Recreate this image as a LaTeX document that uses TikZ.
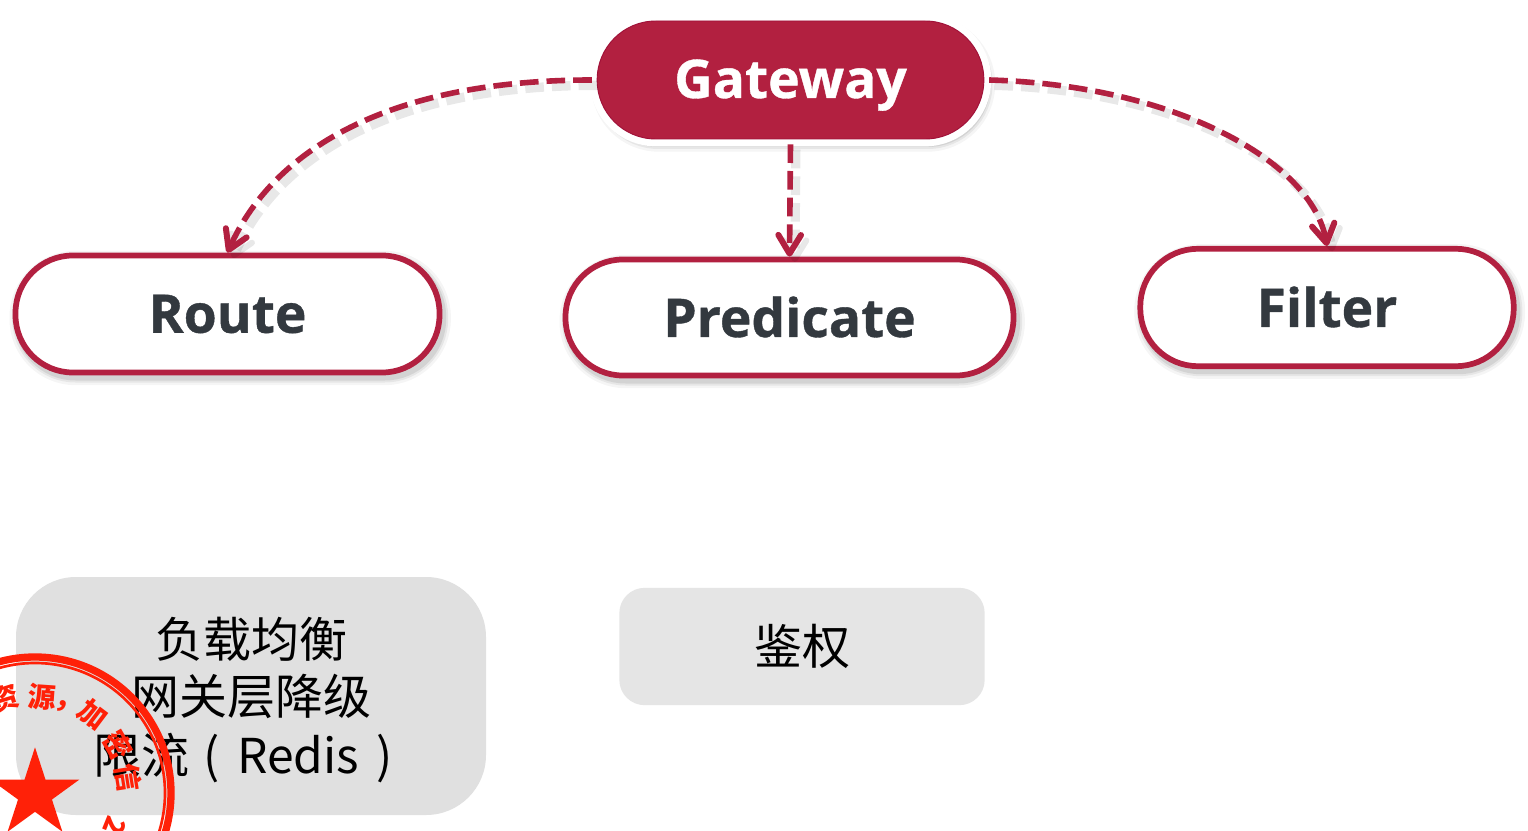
\documentclass[tikz,border=0pt]{standalone}
\usepackage{fontspec}
\setmainfont{Open Sans}[BoldFeatures={FakeBold=0.7}]
\newfontfamily\cjk{Noto Sans CJK SC}
\usetikzlibrary{arrows.meta,shapes.geometric}
\definecolor{crim}{HTML}{B22040}
\definecolor{crimd}{HTML}{A01038}
\definecolor{stampred}{HTML}{FF2108}
\definecolor{darktxt}{HTML}{33393F}
\tikzset{
  softshadow/.style={
    preaction={draw=black,opacity=.04,line width=13pt,transform canvas={xshift=2pt,yshift=-3pt}},
    preaction={draw=black,opacity=.06,line width=9pt,transform canvas={xshift=2pt,yshift=-3pt}},
    preaction={draw=black,opacity=.08,line width=6pt,transform canvas={xshift=2pt,yshift=-3pt}}},
  pill/.style={rectangle,rounded corners=43pt,draw=crim,line width=4.3pt,fill=white,softshadow,
    text=darktxt,font=\fontsize{40}{45}\selectfont\bfseries,inner sep=0pt},
  gatepill/.style={rectangle,rounded corners=44pt,fill=crim,draw=crimd,line width=.7pt,softshadow,
    preaction={draw=white,line width=11pt},outer sep=4pt,
    text=white,font=\fontsize{40}{47}\selectfont\bfseries,
    minimum width=290pt,minimum height=88.5pt,inner sep=0pt},
  graybox/.style={rectangle,fill=#1,text=black,align=center,inner sep=0pt,
    font=\cjk\fontsize{36}{42.75}\selectfont},
  link/.style={draw=crim,line width=4.2pt,dash pattern=on 14pt off 6pt,
    -{Straight Barb[length=14pt,width=17pt,line width=4.5pt,round=false]},
    preaction={draw=black,opacity=.09,line width=7pt,dash pattern=on 14pt off 6pt,
      transform canvas={xshift=4pt,yshift=-4pt}}},
  stampglyph/.style={text=stampred,font=\cjk\bfseries\fontsize{21}{21}\selectfont,inner sep=0pt},
  stampring/.style={draw=stampred,circle,inner sep=0pt,fill=none}
}
\begin{document}
\begin{tikzpicture}[x=0.75pt,y=-0.75pt]
\useasboundingbox (0,0) rectangle (1528,831);
\fill[white] (0,0) rectangle (1528,831);
\node[gatepill] (g) at (790.5,80) {\smash{\raisebox{-13.5pt}{Gateway}}};
\node[pill,minimum width=318pt,minimum height=87.75pt] (r) at (227.5,314) {Route};
\node[pill,minimum width=336pt,minimum height=87pt] (p) at (789.5,317.5) {\smash{\raisebox{-14.6pt}{Predicate}}};
\node[pill,minimum width=280pt,minimum height=88pt] (f) at (1327,307.5) {\smash{\raisebox{-14.6pt}{Filter}}};
\draw[link] (g.west) .. controls +(-215,0) and +(42,-95) .. (r.north);
\draw[link] (g.south) -- (p.north);
\draw[link] (g.east) .. controls +(185,5) and +(-15,-85) .. (f.north);
\node[graybox=gray!24,minimum width=352.5pt,minimum height=178.5pt,rounded corners=45pt] (b1) at (251,696)
  {\rule{0pt}{37pt}负载均衡\\网关层降级\\[1.5pt]限流\hspace{11pt}(\hspace{13pt}Redis\hspace{13pt})\hspace*{12pt}};
\node[graybox=gray!20,minimum width=274pt,minimum height=88pt,rounded corners=19pt] (b2) at (802,646.5) {鉴权};
\begin{scope}
\clip (0,0) rectangle (1528,831);
\node[stampring,line width=5.5pt,minimum size=204pt] (ring1) at (35,793) {};
\node[stampring,line width=2pt,minimum size=195pt] (ring2) at (35,793) {};
\node[star,star points=5,star point ratio=2.618,fill=stampred,inner sep=0pt,minimum size=70pt] (st) at (35,794) {};
\node[stampglyph,rotate=17] (s1) at (5,698) {资};
\node[stampglyph,rotate=-4] (s2) at (42,697) {源};
\node[stampglyph,rotate=-20] (s3) at (62,706) {,};
\node[stampglyph,rotate=-37] (s4) at (93,715) {加};
\node[stampglyph,rotate=-60] (s5) at (118,745) {密};
\node[stampglyph,rotate=-81] (s6) at (128,778) {信};
\node[stampglyph,rotate=-112] (s7) at (115,826) {2};
\end{scope}
\end{tikzpicture}
\end{document}
